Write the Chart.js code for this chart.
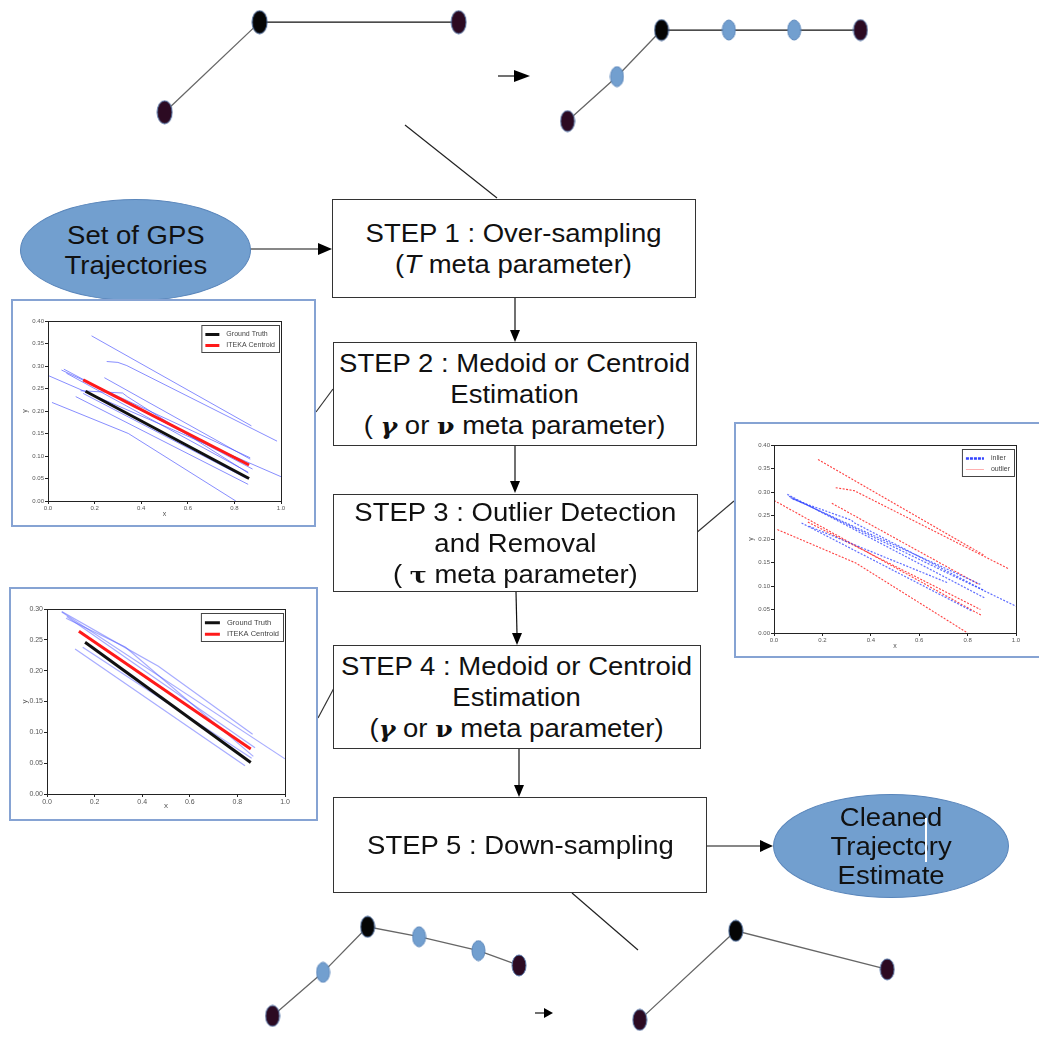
<!DOCTYPE html>
<html>
<head>
<meta charset="utf-8">
<script src="https://cdn.jsdelivr.net/npm/chart.js@4.4.0/dist/chart.umd.min.js"></script>
<style>
  body { margin: 0; width: 1039px; height: 1040px; background: #fff; overflow: hidden; position: relative; font-family: "Liberation Sans", Arial, sans-serif; }
  .abs { position: absolute; }
  .step { position: absolute; box-sizing: border-box; border: 1.5px solid #333; background: #fff;
          display: flex; align-items: center; justify-content: center; color: #111; }
  .txt { font-size: 25px; line-height: 31px; text-align: center; transform: scaleX(1.1); white-space: nowrap; }
  .gk { font-family: "DejaVu Serif", serif; font-weight: bold; font-style: italic; font-size: 23px; }
  .blob { position: absolute; box-sizing: border-box; border-radius: 50%; background: #729fcf; border: 1px solid #5a86bb;
          display: flex; align-items: center; justify-content: center; color: #111; }
  .frame { position: absolute; box-sizing: border-box; border: 2px solid #86a3d3; background: #fff; }
  #links { position: absolute; left: 0; top: 0; }
</style>
</head>
<body>
<canvas id="tracks" class="abs" width="1039" height="1040" style="left:0;top:0"></canvas>

<svg id="links" width="1039" height="1040">
  <g stroke="#111" stroke-width="1.2" fill="none">
    <line x1="405" y1="125" x2="497" y2="198" stroke="#222"/>
    <line x1="572" y1="893" x2="638" y2="950" stroke="#222"/>
    <line x1="250" y1="249" x2="320" y2="249"/>
    <line x1="515" y1="298" x2="515" y2="331"/>
    <line x1="515" y1="446" x2="515" y2="482"/>
    <line x1="516" y1="592" x2="517" y2="634"/>
    <line x1="519" y1="749" x2="519" y2="786"/>
    <line x1="707" y1="846" x2="761" y2="846"/>
    <line x1="498" y1="76" x2="515" y2="76"/>
    <line x1="535" y1="1013" x2="545" y2="1013"/>
    <line x1="316" y1="412" x2="333" y2="389" stroke="#333"/>
    <line x1="318" y1="718" x2="334" y2="688" stroke="#333"/>
    <line x1="695" y1="534" x2="734" y2="501" stroke="#333"/>
  </g>
  <g fill="#000">
    <polygon points="318,243 332,249 318,255"/>
    <polygon points="510,330 520,330 515,342"/>
    <polygon points="510,481 520,481 515,493"/>
    <polygon points="512,633 522,633 517,645"/>
    <polygon points="514,785 524,785 519,797"/>
    <polygon points="760,840 773,846 760,852"/>
    <polygon points="514,70 530,76 514,82"/>
    <polygon points="544,1008 553,1013 544,1018"/>
  </g>
</svg>

<div class="blob" style="left:20px;top:199px;width:231px;height:102px"><div class="txt" style="line-height:30px">Set of GPS<br>Trajectories</div></div>
<div class="blob" style="left:773px;top:794px;width:236px;height:104px"><div class="txt" style="line-height:29px">Cleaned<br>Trajectory<br>Estimate</div></div>
<div class="abs" style="left:925px;top:818px;width:2px;height:44px;background:#fff"></div>

<div class="step" style="left:332px;top:199px;width:364px;height:99px"><div class="txt">STEP 1 : Over-sampling<br>(<i>T</i> meta parameter)</div></div>
<div class="step" style="left:333px;top:342px;width:364px;height:104px"><div class="txt">STEP 2 : Medoid or Centroid<br>Estimation<br>( <span class="gk">γ</span> or <span class="gk" style="font-style:normal">ν</span> meta parameter)</div></div>
<div class="step" style="left:333px;top:494px;width:365px;height:98px"><div class="txt">STEP 3 : Outlier Detection<br>and Removal<br>( <span class="gk" style="font-style:normal">τ</span> meta parameter)</div></div>
<div class="step" style="left:333px;top:645px;width:368px;height:104px"><div class="txt">STEP 4 : Medoid or Centroid<br>Estimation<br>(<span class="gk">γ</span> or <span class="gk" style="font-style:normal">ν</span> meta parameter)</div></div>
<div class="step" style="left:333px;top:797px;width:374px;height:96px"><div class="txt">STEP 5 : Down-sampling</div></div>

<div class="frame" style="left:11px;top:299px;width:305px;height:228px"></div>
<canvas id="step2Chart" class="abs" width="301" height="224" style="left:13px;top:301px"></canvas>
<div class="frame" style="left:9px;top:587px;width:309px;height:234px"></div>
<canvas id="step4Chart" class="abs" width="305" height="230" style="left:11px;top:589px"></canvas>
<div class="frame" style="left:734px;top:422px;width:320px;height:236px"></div>
<canvas id="step3Chart" class="abs" width="303" height="232" style="left:736px;top:424px"></canvas>

<script>
// toy trajectories (diagram units, y down)
const inputTrackX = [161, 257, 458];
const inputTrackY = [108, 17, 17];
const inputTrackKind = ["end", "corner", "end"];
const overTrackX = [568, 618, 663, 731, 797, 864];
const overTrackY = [117, 72, 25, 25, 25, 25];
const overTrackKind = ["end", "added", "corner", "added", "added", "end"];
const denseTrackX = [270, 321, 366, 418, 478, 519];
const denseTrackY = [1021, 977, 931, 941, 955, 970];
const denseTrackKind = ["end", "added", "corner", "added", "added", "end"];
const downTrackX = [641, 738, 891];
const downTrackY = [1025, 935, 974];
const downTrackKind = ["end", "corner", "end"];

// step 2 inset: raw GPS traces, ground truth and centroid
const step2Traces = [
  [[0.187, 0.367], [0.873, 0.167]],
  [[0.252, 0.310], [0.300, 0.308], [0.338, 0.301], [0.983, 0.133]],
  [[0.242, 0.274], [0.868, 0.093]],
  [[0.000, 0.279], [1.000, 0.054]],
  [[0.058, 0.291], [0.868, 0.096]],
  [[0.068, 0.293], [0.878, 0.071]],
  [[0.079, 0.284], [0.859, 0.064]],
  [[0.017, 0.219], [0.345, 0.150], [0.806, 0.000]],
  [[0.119, 0.232], [0.859, 0.037]],
  [[0.151, 0.239], [0.853, 0.050]],
  [[0.140, 0.245], [0.320, 0.240], [0.340, 0.232], [0.860, 0.062]]
];
const step2Truth = [[0.161, 0.244], [0.863, 0.050]];
const step2Centroid = [[0.151, 0.269], [0.863, 0.080]];

// step 3 inset: inliers / outliers
const step3Inliers = [
  [[0.055, 0.295], [0.869, 0.075]],
  [[0.062, 0.291], [1.000, 0.057]],
  [[0.069, 0.288], [0.855, 0.103]],
  [[0.076, 0.285], [0.320, 0.240], [0.330, 0.235], [0.870, 0.090]],
  [[0.114, 0.234], [0.821, 0.046]],
  [[0.145, 0.227], [0.717, 0.107]]
];
const step3Outliers = [
  [[0.182, 0.369], [0.870, 0.165]],
  [[0.255, 0.309], [0.331, 0.303], [0.972, 0.136]],
  [[0.239, 0.276], [0.848, 0.103]],
  [[0.000, 0.282], [0.859, 0.037]],
  [[0.014, 0.220], [0.338, 0.149], [0.800, 0.000]],
  [[0.140, 0.236], [0.853, 0.050]]
];

// step 4 inset: remaining traces
const step4Traces = [
  [[0.062, 0.296], [0.321, 0.239], [0.468, 0.207], [0.864, 0.097]],
  [[0.083, 0.288], [0.874, 0.075]],
  [[0.062, 0.295], [1.000, 0.057]],
  [[0.080, 0.285], [0.320, 0.240], [0.330, 0.238], [0.867, 0.061]],
  [[0.118, 0.235], [0.832, 0.046]],
  [[0.150, 0.238], [0.860, 0.058]]
];
const step4Truth = [[0.160, 0.246], [0.856, 0.051]];
const step4Centroid = [[0.134, 0.264], [0.856, 0.073]];

//node glyphs: small vertical ovals
function makeNode(fill, stroke, w, h) {
  const c = document.createElement("canvas");
  c.width = w + 2; c.height = h + 2;
  const g = c.getContext("2d");
  g.beginPath();
  g.ellipse(c.width / 2, c.height / 2, w / 2, h / 2, 0, 0, Math.PI * 2);
  g.fillStyle = fill; g.fill();
  g.lineWidth = 1; g.strokeStyle = stroke; g.stroke();
  return c;
}
const bigNodes = {
  end: makeNode("#2c0a22", "#5577aa", 15, 23),
  corner: makeNode("#050505", "#44669a", 15, 23)
};
const smallNodes = {
  end: makeNode("#2c0a22", "#5577aa", 14, 21),
  corner: makeNode("#050505", "#44669a", 14, 21),
  added: makeNode("#729fcf", "#5a86bb", 13, 20)
};

const trackSet = (xs, ys, kinds, nodes) => ({
  data: xs.map((x, i) => ({ x: x, y: ys[i] })),
  showLine: true,
  borderWidth: 1.3,
  segment: {
    borderColor: ctx => Math.abs(ctx.p0.parsed.y - ctx.p1.parsed.y) < 2 ? "#111" : "#666"
  },
  pointStyle: kinds.map(k => nodes[k]),
  clip: false
});

new Chart(document.getElementById("tracks"), {
  type: "scatter",
  data: {
    datasets: [
      trackSet(inputTrackX, inputTrackY, inputTrackKind, bigNodes),
      trackSet(overTrackX, overTrackY, overTrackKind, smallNodes),
      trackSet(denseTrackX, denseTrackY, denseTrackKind, smallNodes),
      trackSet(downTrackX, downTrackY, downTrackKind, smallNodes)
    ]
  },
  options: {
    responsive: false,
    animation: false,
    layout: { padding: 0 },
    scales: {
      x: { type: "linear", min: 0, max: 1039, display: false },
      y: { type: "linear", min: 0, max: 1040, reverse: true, display: false }
    },
    plugins: { legend: { display: false }, tooltip: { enabled: false } }
  }
});

//frame around plot area + matplotlib-like legend box in the top right corner
const boxPlugin = {
  id: "boxes",
  afterDraw(chart, args, opts) {
    const { ctx, chartArea: a } = chart;
    ctx.save();
    ctx.strokeStyle = "#222";
    ctx.lineWidth = 1;
    ctx.strokeRect(a.left + 0.5, a.top + 0.5, a.right - a.left, a.bottom - a.top);

    const items = chart.data.datasets.filter(d => d.label);
    const fs = opts.fontSize || 6;
    ctx.font = fs + "px 'Liberation Sans', Arial, sans-serif";
    const textW = Math.max(...items.map(d => ctx.measureText(d.label).width));
    const sample = opts.sample || 14, pad = 4, rowH = fs + 4;
    const w = pad + sample + 7 + textW + pad;
    const h = pad + rowH * items.length + 1;
    const x0 = a.right - w - 2, y0 = a.top + 4;
    ctx.fillStyle = "#fff";
    ctx.fillRect(x0, y0, w, h);
    ctx.strokeStyle = "#444";
    ctx.strokeRect(x0 + 0.5, y0 + 0.5, w, h);
    items.forEach((d, i) => {
      const cy = y0 + pad + rowH * i + rowH / 2;
      ctx.strokeStyle = d.legendColor || d.borderColor;
      ctx.lineWidth = d.legendWidth || d.borderWidth;
      ctx.setLineDash(d.legendDash || []);
      ctx.beginPath();
      ctx.moveTo(x0 + pad, cy);
      ctx.lineTo(x0 + pad + sample, cy);
      ctx.stroke();
      ctx.setLineDash([]);
      ctx.fillStyle = "#444";
      ctx.textBaseline = "middle";
      ctx.fillText(d.label, x0 + pad + sample + 7, cy);
    });
    ctx.restore();
  }
};

const line = (pts, color, width, label, extra) => Object.assign({
  label: label || "",
  data: pts.map(p => ({ x: p[0], y: p[1] })),
  showLine: true,
  borderColor: color,
  backgroundColor: color,
  borderWidth: width,
  pointRadius: 0
}, extra || {});

function inset(id, datasets, yMax, pad, fontSize, legendFont, legendSample) {
  return new Chart(document.getElementById(id), {
    type: "scatter",
    data: { datasets: datasets },
    options: {
      responsive: false,
      animation: false,
      layout: { padding: pad },
      scales: {
        x: {
          type: "linear", min: 0, max: 1,
          ticks: { stepSize: 0.2, font: { size: fontSize }, color: "#555", padding: 1, callback: v => v.toFixed(1) },
          grid: { drawOnChartArea: false, tickLength: 3, color: "#222" },
          border: { color: "#222" },
          title: { display: true, text: "x", font: { size: fontSize + 1 }, color: "#555", padding: 0 },
          afterFit: s => { s.height = 17; }
        },
        y: {
          type: "linear", min: 0, max: yMax,
          ticks: { stepSize: 0.05, font: { size: fontSize }, color: "#555", padding: 1, callback: v => v.toFixed(2) },
          grid: { drawOnChartArea: false, tickLength: 3, color: "#222" },
          border: { color: "#222" },
          title: { display: true, text: "y", font: { size: fontSize + 1 }, color: "#555", padding: 0 },
          afterFit: s => { s.width = 27; }
        }
      },
      plugins: {
        tooltip: { enabled: false },
        legend: { display: false },
        boxes: { fontSize: legendFont, sample: legendSample }
      }
    },
    plugins: [boxPlugin]
  });
}

const blueTrace = "rgba(70,80,255,0.65)";

inset("step2Chart", [
  line(step2Truth, "#111", 3, "Ground Truth"),
  line(step2Centroid, "#ff1a1a", 3, "ITEKA Centroid"),
  ...step2Traces.map(t => line(t, blueTrace, 1))
], 0.40, { left: 8, top: 20, right: 33, bottom: 7 }, 6, 7, 14);

inset("step4Chart", [
  line(step4Truth, "#111", 3, "Ground Truth"),
  line(step4Centroid, "#ff1a1a", 3, "ITEKA Centroid"),
  ...step4Traces.map(t => line(t, "rgba(80,90,255,0.5)", 1.2))
], 0.30, { left: 9, top: 20, right: 31, bottom: 8 }, 7, 7.5, 15);

inset("step3Chart", [
  ...step3Inliers.map((t, i) => line(t, "rgba(40,60,255,0.75)", 1.2, i === 0 ? "inlier" : "",
    { borderDash: [2, 1.5], legendColor: "#3344ff", legendWidth: 2.5, legendDash: [3, 1] })),
  ...step3Outliers.map((t, i) => line(t, "rgba(255,30,30,0.85)", 1.1, i === 0 ? "outlier" : "",
    { borderDash: [2, 1.5], legendColor: "#ffb0b0", legendWidth: 1 }))
], 0.40, { left: 11, top: 21, right: 23, bottom: 6 }, 6, 7, 18);
</script>
</body>
</html>
